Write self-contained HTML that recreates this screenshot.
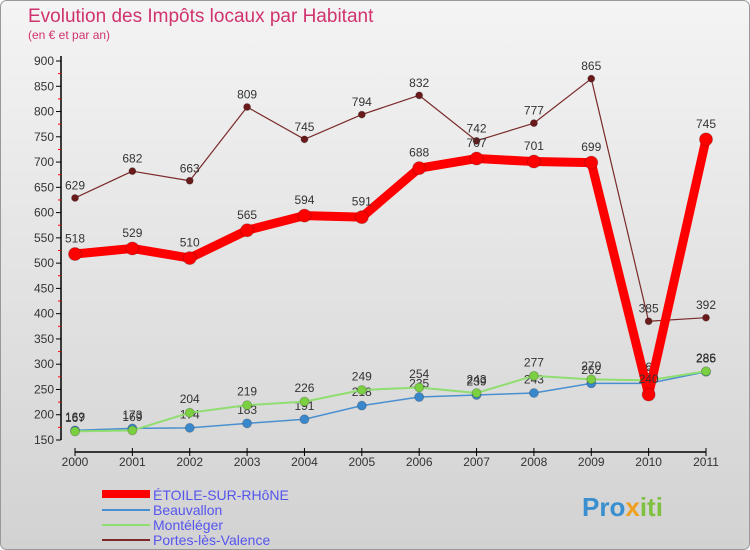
<!DOCTYPE html>
<html><head><meta charset="utf-8"><style>
body{margin:0;width:750px;height:550px;overflow:hidden;font-family:"Liberation Sans",sans-serif}
svg{display:block}
</style></head><body>
<svg id="c" width="750" height="550" xmlns="http://www.w3.org/2000/svg">
<defs><linearGradient id="bg" x1="0" y1="0" x2="0" y2="1"><stop offset="0" stop-color="#f4f4f4"/><stop offset="1" stop-color="#d2d2d2"/></linearGradient></defs>
<rect x="0.5" y="0.5" width="749" height="549" rx="6" fill="url(#bg)" stroke="#999"/>
<text x="28" y="22" font-size="19" fill="#d0336e">Evolution des Impôts locaux par Habitant</text>
<text x="28" y="39" font-size="12" fill="#d0336e">(en € et par an)</text>
<g id="axes"></g><g id="series"></g>
<g>
<line x1="102" y1="494" x2="150" y2="494" stroke="#f00" stroke-width="8"/>
<text x="153" y="500" font-size="14" fill="#5555ee">ÉTOILE-SUR-RHôNE</text>
<line x1="102" y1="510" x2="150" y2="510" stroke="#4a90d0" stroke-width="2"/>
<text x="153" y="515" font-size="14" fill="#5555ee">Beauvallon</text>
<line x1="102" y1="525" x2="150" y2="525" stroke="#90dd70" stroke-width="2"/>
<text x="153" y="530" font-size="14" fill="#5555ee">Montéléger</text>
<line x1="102" y1="540" x2="150" y2="540" stroke="#7a2a2a" stroke-width="2"/>
<text x="153" y="545" font-size="14" fill="#5555ee">Portes-lès-Valence</text>
</g>
<text x="582" y="516" font-size="26" font-weight="bold" fill="#3a8fd0">Pro<tspan fill="#f0a020">x</tspan><tspan fill="#80c040">iti</tspan></text>
</svg>
<script>
const years=[2000,2001,2002,2003,2004,2005,2006,2007,2008,2009,2010,2011];
const etoile=[518,529,510,565,594,591,688,707,701,699,240,745];
const beauvallon=[169,173,174,183,191,218,235,239,243,262,262,285];
const monteleger=[167,169,204,219,226,249,254,243,277,270,268,286];
const portes=[629,682,663,809,745,794,832,742,777,865,385,392];
const yTicks=[150,200,250,300,350,400,450,500,550,600,650,700,750,800,850,900];
const NS="http://www.w3.org/2000/svg";
const X=i=>75+i*(706-75)/(years.length-1);
const Y=v=>440-(v-150)*(440-61)/750;
function mk(p,t,a){const e=document.createElementNS(NS,t);for(const k in a)e.setAttribute(k,a[k]);p.appendChild(e);return e;}
const ax=document.getElementById('axes');
let l=mk(ax,'line',{x1:61,y1:56,x2:61,y2:440,stroke:'#000','stroke-width':1.5});


l=mk(ax,'line',{x1:75,y1:452,x2:706,y2:452,stroke:'#000','stroke-width':1.5});


yTicks.forEach((v,i)=>{
 mk(ax,'line',{x1:56,x2:61,y1:Y(v),y2:Y(v),stroke:'#000'});
 if(i<yTicks.length-1)mk(ax,'line',{x1:58,x2:61,y1:Y(v+25),y2:Y(v+25),stroke:'#f00'});
 const t=mk(ax,'text',{x:54,y:Y(v)+4,'font-size':12,'text-anchor':'end',fill:'#333'});
 t.textContent=v;
 
 
});
years.forEach((y,i)=>{
 mk(ax,'line',{x1:X(i),x2:X(i),y1:448,y2:456,stroke:'#000'});
 const t=mk(ax,'text',{x:X(i),y:466,'font-size':12,'text-anchor':'middle',fill:'#333'});
 t.textContent=y;
 
 
});
const sg=document.getElementById('series');
function series(name,vals,color,w,r,dot,lblBelow){
 const g=mk(sg,'g',{});
 
 
 mk(g,'polyline',{points:vals.map((v,i)=>X(i)+','+Y(v)).join(' '),fill:'none',stroke:color,'stroke-width':w,'stroke-linejoin':'round'});
 vals.forEach((v,i)=>{
  const c=mk(g,'circle',{cx:X(i),cy:Y(v),r:r,fill:dot,stroke:'#0003'});
  
  
  const t=mk(g,'text',{x:X(i),y:Y(v)-(lblBelow?-2-r-10:r+5),'font-size':12,'text-anchor':'middle',fill:'#333'});
  t.textContent=v;
  
  
 });
}
series('portes',portes,'#7a2a2a',1.2,3.5,'#6a1a1a');
series('beauvallon',beauvallon,'#4a90d0',1.5,4.5,'#3a88cc');
series('monteleger',monteleger,'#90dd70',2,4.5,'#7ad040');
series('etoile',etoile,'#f00',9,6.5,'#f00');
</script>
</body></html>
